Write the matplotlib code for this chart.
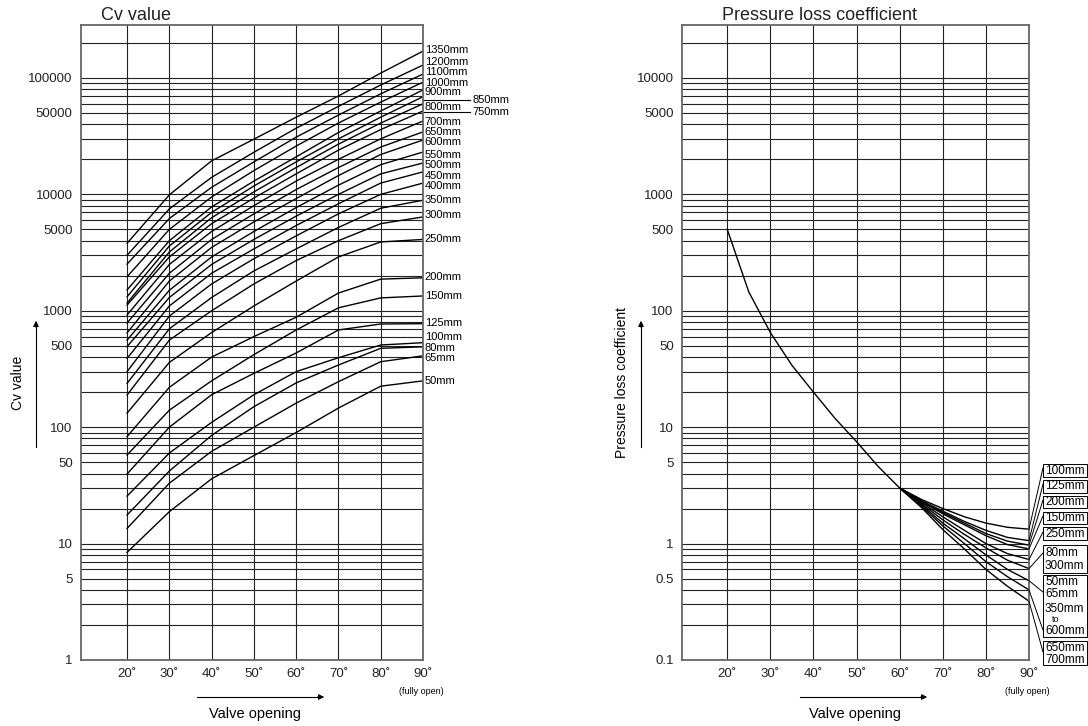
import numpy as np
import matplotlib.pyplot as plt
from matplotlib.ticker import FixedLocator, NullFormatter
from matplotlib.patches import Rectangle

plt.rcParams['font.family'] = ['Liberation Sans', 'DejaVu Sans']

# Valve opening (deg)
opening = [20, 30, 40, 50, 60, 70, 80, 90]

# Cv value per nominal size
cv_50mm = [8.4, 18.8, 36, 57, 90, 146, 225, 250]
cv_65mm = [13.5, 33, 62, 100, 161, 246, 365, 410]
cv_80mm = [17.6, 42, 85, 150, 240, 342, 476, 490]
cv_100mm = [25.6, 60, 110, 190, 300, 395, 508, 532]
cv_125mm = [39.6, 100, 190, 290, 434, 684, 770, 775]
cv_150mm = [57.7, 140, 250, 420, 684, 1060, 1290, 1340]
cv_200mm = [83, 220, 400, 600, 880, 1420, 1870, 1920]
cv_250mm = [132, 360, 650, 1100, 1800, 2900, 3900, 4100]
cv_300mm = [189, 560, 1000, 1700, 2700, 4000, 5600, 6400]
cv_350mm = [238, 700, 1300, 2200, 3400, 5200, 7600, 8900]
cv_400mm = [300, 900, 1700, 2800, 4400, 6800, 10000, 12500]
cv_450mm = [390, 1100, 2100, 3400, 5400, 8300, 12500, 15600]
cv_500mm = [492, 1300, 2500, 4100, 6500, 10000, 15000, 18600]
cv_550mm = [560, 1500, 2900, 4800, 7700, 12000, 18000, 23100]
cv_600mm = [646, 1800, 3500, 5800, 9200, 14500, 22000, 29300]
cv_650mm = [785, 2100, 4100, 6800, 11000, 17000, 25500, 34400]
cv_700mm = [920, 2500, 4800, 8000, 13000, 20000, 30000, 42700]
cv_750mm = [1120, 2900, 5600, 9300, 15000, 24000, 36000, 52000]
cv_800mm = [1166, 3200, 6300, 10500, 17000, 27000, 41000, 60000]
cv_850mm = [1320, 3600, 7000, 11800, 19000, 30000, 46000, 69000]
cv_900mm = [1510, 4000, 7800, 13000, 21000, 34000, 52000, 79000]
cv_1000mm = [1960, 5000, 9500, 16000, 26000, 41000, 62000, 92000]
cv_1100mm = [2520, 6200, 11500, 19000, 31000, 48000, 73000, 108000]
cv_1200mm = [3000, 7500, 14000, 23000, 37000, 57000, 87000, 129000]
cv_1350mm = [3800, 9900, 19400, 29800, 46000, 70000, 110000, 170000]

cv_curves = [cv_50mm, cv_65mm, cv_80mm, cv_100mm, cv_125mm, cv_150mm, cv_200mm,
             cv_250mm, cv_300mm, cv_350mm, cv_400mm, cv_450mm, cv_500mm, cv_550mm,
             cv_600mm, cv_650mm, cv_700mm, cv_750mm, cv_800mm, cv_850mm, cv_900mm,
             cv_1000mm, cv_1100mm, cv_1200mm, cv_1350mm]

# size labels at the right edge and the height they are written at
cv_labels = ['1350mm', '1200mm', '1100mm', '1000mm', '900mm', '850mm', '800mm', '750mm',
             '700mm', '650mm', '600mm', '550mm', '500mm', '450mm', '400mm', '350mm',
             '300mm', '250mm', '200mm', '150mm', '125mm', '100mm', '80mm', '65mm', '50mm']
cv_label_y = [174000, 137000, 113000, 90600, 75800, 64800, 56300, 51000,
              41900, 34000, 27900, 21800, 17900, 14400, 11800, 8950,
              6650, 4140, 1950, 1340, 785, 596, 479, 393, 249]

# Pressure loss coefficient: common curve up to 60 deg
loss_opening = [20, 25, 30, 35, 40, 45, 50, 55, 60]
loss_common = [500, 145, 65, 34, 20, 11.9, 7.5, 4.6, 3.0]

# branches after 60 deg
branch_opening = [60, 65, 70, 75, 80, 85, 90]
loss_100mm = [3.0, 2.4, 2.0, 1.7, 1.5, 1.38, 1.33]
loss_125mm = [3.0, 2.35, 1.9, 1.55, 1.3, 1.13, 1.06]
loss_200mm = [3.0, 2.3, 1.85, 1.5, 1.22, 1.05, 0.97]
loss_150mm = [3.0, 2.3, 1.8, 1.45, 1.17, 0.98, 0.90]
loss_250mm = [3.0, 2.25, 1.7, 1.3, 1.0, 0.82, 0.73]
loss_80_300mm = [3.0, 2.2, 1.6, 1.2, 0.92, 0.72, 0.61]
loss_50_65mm = [3.0, 2.15, 1.5, 1.1, 0.8, 0.6, 0.48]
loss_350_600mm = [3.0, 2.1, 1.42, 1.0, 0.70, 0.52, 0.40]
loss_650_700mm = [3.0, 2.05, 1.32, 0.9, 0.6, 0.43, 0.32]

loss_branches = [loss_100mm, loss_125mm, loss_200mm, loss_150mm, loss_250mm,
                 loss_80_300mm, loss_50_65mm, loss_350_600mm, loss_650_700mm]

W, H = 1088, 726
fig = plt.figure(figsize=(W / 100, H / 100), dpi=100)


def fx(px):
    return px / W


def fy(py):
    return 1 - py / H


def setup(ax, ymin, ymax, major, labels, xmin):
    ax.set_yscale('log')
    ax.set_xlim(xmin, 90)
    ax.set_ylim(ymin, ymax)
    ax.yaxis.set_major_locator(FixedLocator(major))
    ax.set_yticklabels(labels)
    dec = np.arange(np.floor(np.log10(ymin)), np.ceil(np.log10(ymax)))
    minor = [m * 10 ** d for d in dec for m in range(1, 10) if m * 10 ** d not in major]
    ax.yaxis.set_minor_locator(FixedLocator(minor))
    ax.yaxis.set_minor_formatter(NullFormatter())
    ax.set_xticks(opening)
    ax.set_xticklabels([f'{v}˚' for v in opening])
    ax.tick_params(which='both', length=0, labelsize=9.5, pad=6, labelcolor='#222222')
    ax.grid(True, which='both', axis='y', color='#222222', lw=0.8)
    ax.grid(True, which='major', axis='x', color='#222222', lw=0.8)
    for s in ax.spines.values():
        s.set_color('#666666')
        s.set_linewidth(1.3)


# ---- left: Cv value
ax1 = fig.add_axes([fx(81), fy(660), fx(423 - 81), (660 - 25) / H])
setup(ax1, 1, 285000,
      [1, 5, 10, 50, 100, 500, 1000, 5000, 10000, 50000, 100000],
      ['1', '5', '10', '50', '100', '500', '1000', '5000', '10000', '50000', '100000'],
      9.1)
for vals in cv_curves:
    ax1.plot(opening, vals, color='k', lw=1.0)
for name, yv in zip(cv_labels, cv_label_y):
    if name in ('850mm', '750mm'):
        ax1.plot([90, 101.1], [yv, yv], color='k', lw=0.8, clip_on=False)
        ax1.text(101.8, yv, name, va='center', ha='left', fontsize=8)
    else:
        ax1.text(90.4, yv, name, va='center', ha='left', fontsize=8)

# ---- right: pressure loss coefficient
ax2 = fig.add_axes([fx(682), fy(660), fx(1029 - 682), (660 - 25) / H])
setup(ax2, 0.1, 28500,
      [0.1, 0.5, 1, 5, 10, 50, 100, 500, 1000, 5000, 10000],
      ['0.1', '0.5', '1', '5', '10', '50', '100', '500', '1000', '5000', '10000'],
      9.5)
ax2.plot(loss_opening, loss_common, color='k', lw=1.0)
for vals in loss_branches:
    ax2.plot(branch_opening, vals, color='k', lw=1.0)

# label boxes on the right (pixel layout)
boxes = [(464, 477), (480, 493), (496, 508), (512, 524), (527, 540),
         (545, 573), (575, 637), (641, 665)]
for top, bot in boxes:
    fig.add_artist(Rectangle((fx(1043), fy(bot)), fx(1087 - 1043), (bot - top) / H,
                             fill=False, ec='k', lw=0.7, transform=fig.transFigure))
box_text = [('100mm', 471), ('125mm', 486), ('200mm', 502), ('150mm', 518),
            ('250mm', 534), ('80mm', 553), ('300mm', 566), ('50mm', 582),
            ('65mm', 594), ('350mm', 609), ('600mm', 631), ('650mm', 648),
            ('700mm', 660)]
for t, py in box_text:
    fig.text(fx(1045), fy(py), t, fontsize=8.5, va='center', ha='left')
fig.text(fx(1052), fy(620), 'to', fontsize=6.5, va='center', ha='left')

# leader lines from curve ends to the boxes
leader_to = [468, 484, 500, 516, 532, 553, 592, 630, 652]
for vals, py in zip(loss_branches, leader_to):
    y0 = 660 - (np.log10(vals[-1]) + 1) * 116.4
    fig.add_artist(plt.Line2D([fx(1029), fx(1043)], [fy(y0), fy(py)], color='k',
                              lw=0.7, transform=fig.transFigure))

# ---- titles, axis names and arrows
fig.text(fx(101), fy(16), 'Cv value', fontsize=13, va='center', ha='left', color='#222222')
fig.text(fx(722), fy(16), 'Pressure loss coefficient', fontsize=13, va='center',
         ha='left', color='#222222')

fig.text(fx(18), fy(383), 'Cv value', fontsize=10, rotation=90, va='center', ha='center')
fig.text(fx(622), fy(383), 'Pressure loss coefficient', fontsize=10, rotation=90,
         va='center', ha='center')
for px in (36, 641):
    fig.add_artist(plt.Line2D([fx(px), fx(px)], [fy(447), fy(325)], color='k', lw=0.8,
                              transform=fig.transFigure))
    ax1.annotate('', xy=(fx(px), fy(318)), xytext=(fx(px), fy(330)),
                 xycoords='figure fraction', textcoords='figure fraction',
                 arrowprops=dict(arrowstyle='-|>', color='k', lw=0.8,
                                 mutation_scale=8))

for x0, x1, cx, fo in ((197, 327, 255, 421), (800, 930, 855, 1027)):
    fig.add_artist(plt.Line2D([fx(x0), fx(x1 - 8)], [fy(697), fy(697)], color='k',
                              lw=0.8, transform=fig.transFigure))
    ax1.annotate('', xy=(fx(x1), fy(697)), xytext=(fx(x1 - 12), fy(697)),
                 xycoords='figure fraction', textcoords='figure fraction',
                 arrowprops=dict(arrowstyle='-|>', color='k', lw=0.8,
                                 mutation_scale=8))
    fig.text(fx(cx), fy(714), 'Valve opening', fontsize=10.5, va='center', ha='center')
    fig.text(fx(fo), fy(691), '(fully open)', fontsize=6.5, va='center', ha='center')

fig.savefig('out.png', dpi=100)
